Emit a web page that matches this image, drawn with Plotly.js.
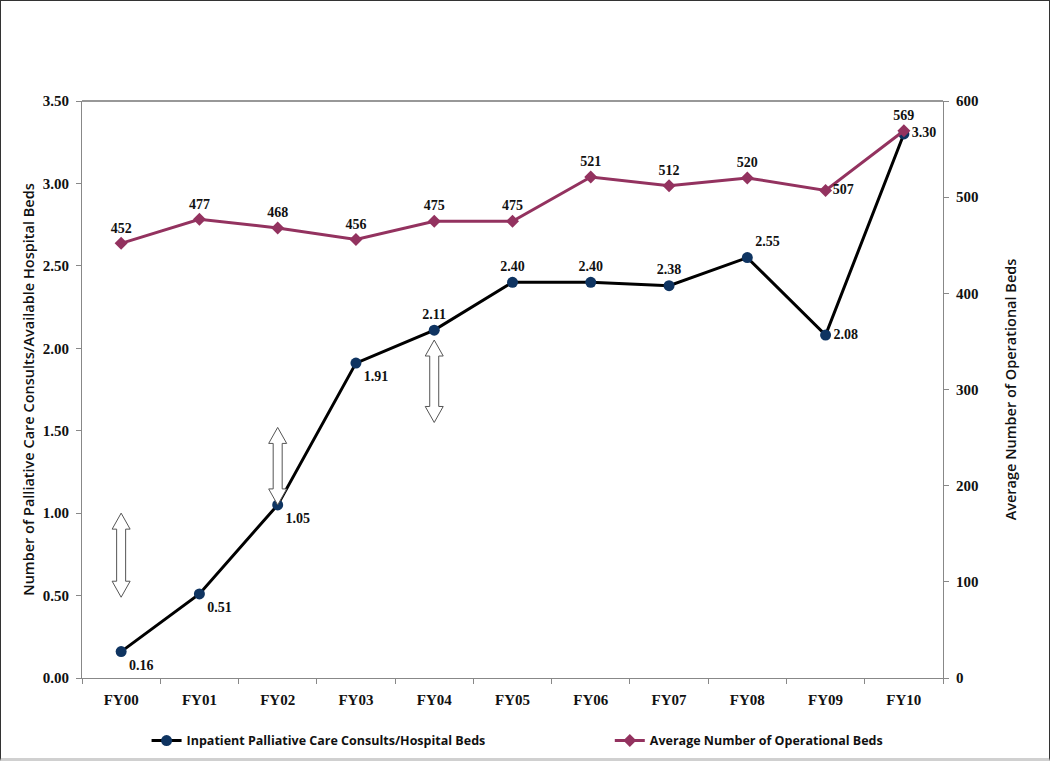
<!DOCTYPE html>
<html>
<head>
<meta charset="utf-8">
<script src="https://cdn.plot.ly/plotly-3.0.1.min.js"></script>
<style>
html,body{margin:0;padding:0;background:#fff;overflow:hidden;}
#wrap{width:1050px;height:761px;box-sizing:border-box;border:1px solid #333;border-bottom:3px solid #d0d0d0;overflow:hidden;}
#chart{width:1048px;height:780px;}
</style>
</head>
<body>
<div id="wrap"><div id="chart"></div></div>
<script>
const categories = ["FY00","FY01","FY02","FY03","FY04","FY05","FY06","FY07","FY08","FY09","FY10"];
const consultsPerBed = [0.16,0.51,1.05,1.91,2.11,2.40,2.40,2.38,2.55,2.08,3.30];
const operationalBeds = [452,477,468,456,475,475,521,512,520,507,569];
const consultsLabelPos = ["bottom right","bottom right","bottom right","bottom right","top center","top center","top center","top center","top right","middle right","middle right"];
const bedsLabelPos = ["top center","top center","top center","top center","top center","top center","top center","top center","top center","middle right","top center"];
// double-headed arrow annotations: category index, top and bottom value on left axis
const arrowCat = [0, 2, 4];
const arrowTop = [1.00, 1.52, 2.05];
const arrowBottom = [0.49, 1.05, 1.55];

const serif = "Liberation Serif, Times New Roman, serif";
const sans = "Open Sans, Noto Sans, sans-serif";

const traces = [
  {
    x: categories, y: consultsPerBed, name: "Inpatient Palliative Care Consults/Hospital Beds",
    type: "scatter", mode: "lines+markers+text",
    line: {color: "#000000", width: 3},
    marker: {color: "#0f3461", size: 11, symbol: "circle"},
    text: consultsPerBed.map(v => v.toFixed(2)), textposition: consultsLabelPos,
    textfont: {family: serif, size: 14, color: "#111", weight: "bold"},
    cliponaxis: false, yaxis: "y", legend: "legend"
  },
  {
    x: categories, y: operationalBeds, name: "Average Number of Operational Beds",
    type: "scatter", mode: "lines+markers+text",
    line: {color: "#93325f", width: 3},
    marker: {color: "#93325f", size: 10, symbol: "diamond"},
    text: operationalBeds.map(String), textposition: bedsLabelPos,
    textfont: {family: serif, size: 14, color: "#111", weight: "bold"},
    cliponaxis: false, yaxis: "y2", legend: "legend2"
  }
];

const hx = 9, sx = 4.5, hh = 0.097;
const shapes = arrowCat.map((c, i) => {
  const t = arrowTop[i], b = arrowBottom[i];
  const path = `M 0 ${t} L ${hx} ${t-hh} L ${sx} ${t-hh} L ${sx} ${b+hh} L ${hx} ${b+hh} L 0 ${b} L ${-hx} ${b+hh} L ${-sx} ${b+hh} L ${-sx} ${t-hh} L ${-hx} ${t-hh} Z`;
  return {type: "path", xref: "x", yref: "y", xsizemode: "pixel", xanchor: c, path: path,
          fillcolor: "#ffffff", line: {color: "#555", width: 1}, layer: "above"};
});
shapes.push({type: "line", xref: "paper", yref: "paper", x0: 0, x1: 1, y0: 1, y1: 1, line: {color: "#333", width: 1.2}});

const legendFont = {family: sans, size: 12.5, color: "#111", weight: "bold"};

const layout = {
  width: 1048, height: 780,
  margin: {l: 81, r: 106, t: 100, b: 103},
  paper_bgcolor: "#fff", plot_bgcolor: "#fff",
  showlegend: true,
  legend: {orientation: "h", x: 0.075, y: -0.083, xanchor: "left", yanchor: "top",
           itemwidth: 30, font: legendFont},
  legend2: {orientation: "h", x: 0.613, y: -0.083, xanchor: "left", yanchor: "top",
           itemwidth: 30, font: legendFont},
  xaxis: {
    type: "category", range: [-0.5, 10.5], showgrid: false, zeroline: false,
    showline: true, linecolor: "#888", linewidth: 1,
    ticks: "outside", tickson: "boundaries", ticklen: 5, tickcolor: "#888",
    tickfont: {family: serif, size: 15, color: "#111", weight: "bold"}, ticklabelstandoff: 8
  },
  yaxis: {
    range: [0, 3.5], dtick: 0.5, tickformat: ".2f", showgrid: false, zeroline: false,
    showline: true, linecolor: "#888", linewidth: 1, ticks: "outside", ticklen: 5, tickcolor: "#888",
    tickfont: {family: serif, size: 15, color: "#111", weight: "bold"}, ticklabelstandoff: 4,
    title: {text: "Number of Palliative Care Consults/Available Hospital Beds", standoff: 4,
            font: {family: sans, size: 14.5, color: "#111", weight: 600}}
  },
  yaxis2: {
    overlaying: "y", side: "right", range: [0, 600], dtick: 100, showgrid: false, zeroline: false,
    showline: true, linecolor: "#888", linewidth: 1, ticks: "outside", ticklen: 5, tickcolor: "#888",
    tickfont: {family: serif, size: 15, color: "#111", weight: "bold"}, ticklabelstandoff: 4,
    title: {text: "Average Number of Operational Beds", standoff: 28,
            font: {family: sans, size: 14.5, color: "#111", weight: 600}}
  },
  shapes: shapes
};

Plotly.newPlot("chart", traces, layout, {displayModeBar: false, staticPlot: true});
</script>
</body>
</html>
